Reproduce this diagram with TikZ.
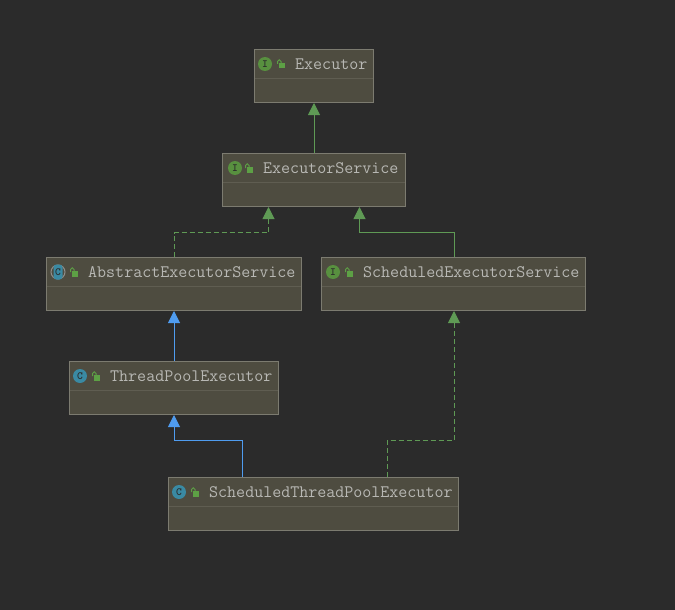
\documentclass[tikz,border=0pt]{standalone}
\usepackage{amsmath}
\usetikzlibrary{arrows.meta}
\definecolor{bgdark}{HTML}{2B2B2B}
\definecolor{boxfill}{HTML}{4E4C40}
\definecolor{boxline}{HTML}{7C7B70}
\definecolor{boxrule}{HTML}{5F5D51}
\definecolor{labelgray}{HTML}{B8B8B4}
\definecolor{inhgreen}{HTML}{5F9A55}
\definecolor{inhblue}{HTML}{4F9CF0}
\definecolor{icongreen}{HTML}{58903F}
\definecolor{iconteal}{HTML}{3A8AA3}
\definecolor{locklime}{HTML}{5DA045}
\tikzset{
  classbox/.style={draw=boxline,fill=boxfill,line width=1pt,anchor=north west,inner sep=0pt},
  classname/.style={anchor=west,inner sep=0pt,text=labelgray,font=\fontsize{17.5}{18}\ttfamily},
  ifaceicon/.style={circle,fill=icongreen,minimum size=14pt,inner sep=0pt,text=bgdark,font=\fontsize{11}{11}\ttfamily\bfseries},
  classicon/.style={circle,fill=iconteal,minimum size=14pt,inner sep=0pt,text=bgdark,font=\fontsize{11}{11}\ttfamily\bfseries},
  extgreen/.style={draw=inhgreen,line width=1pt,-{Triangle[length=12pt,width=12pt]}},
  implgreen/.style={extgreen,dash pattern=on 5pt off 3pt},
  extblue/.style={draw=inhblue,line width=1pt,-{Triangle[length=12pt,width=12pt]}},
  lockicon/.pic={
    \fill[locklime] (-1.5,0) rectangle (5,5.5);
    \draw[locklime,line width=1pt] (-2.5,1) -- (-2.5,-1.5) arc (180:360:1.75) -- (1,0);
  }
}
\begin{document}
\begin{tikzpicture}[x=1pt,y=-1pt]
\fill[bgdark] (0,0) rectangle (675,610);
\useasboundingbox (0,0) rectangle (675,610);

% class boxes
\node[classbox,minimum width=119pt,minimum height=53pt] (exec) at (254,49) {};
\draw[boxrule] (255,78) -- (373,78);
\node[ifaceicon] (execicon) at (265,64) {I};
\pic at (280,63) {lockicon};
\node[classname] (execname) at (295,64) {Executor};

\node[classbox,minimum width=183pt,minimum height=53pt] (execsvc) at (222,153) {};
\draw[boxrule] (223,182) -- (405,182);
\node[ifaceicon] (execsvcicon) at (235,168) {I};
\pic at (248,167) {lockicon};
\node[classname] (execsvcname) at (263,168) {ExecutorService};

\node[classbox,minimum width=255pt,minimum height=53pt] (abssvc) at (46,257) {};
\draw[boxrule] (47,286) -- (301,286);
\draw[labelgray!70!bgdark,line width=1pt] (58,272) circle (7);
\node[classicon,rounded corners=3pt,rectangle,minimum width=9pt,minimum height=15pt] (abssvcicon) at (58,272) {C};
\pic at (73,271) {lockicon};
\node[classname] (abssvcname) at (88,272) {AbstractExecutorService};

\node[classbox,minimum width=264pt,minimum height=53pt] (schedsvc) at (321,257) {};
\draw[boxrule] (322,286) -- (585,286);
\node[ifaceicon] (schedsvcicon) at (333,272) {I};
\pic at (348,271) {lockicon};
\node[classname] (schedsvcname) at (363,272) {ScheduledExecutorService};

\node[classbox,minimum width=209pt,minimum height=53pt] (pool) at (69,361) {};
\draw[boxrule] (70,390) -- (278,390);
\node[classicon] (poolicon) at (80,376) {C};
\pic at (95,375) {lockicon};
\node[classname] (poolname) at (110,376) {ThreadPoolExecutor};

\node[classbox,minimum width=290pt,minimum height=53pt] (schedpool) at (168,477) {};
\draw[boxrule] (169,506) -- (458,506);
\node[classicon] (schedpoolicon) at (179,492) {C};
\pic at (194,491) {lockicon};
\node[classname] (schedpoolname) at (209,492) {ScheduledThreadPoolExecutor};

% inheritance
\draw[extgreen] (execsvc.north) -- (exec.south);
\draw[implgreen] (abssvc.north) -- ++(0,-24.5) -| ([xshift=-45.5pt]execsvc.south);
\draw[extgreen] ([xshift=0.5pt]schedsvc.north) -- ++(0,-24.5) -| ([xshift=45.5pt]execsvc.south);
\draw[extblue] (pool.north) -- (abssvc.south);
\draw[extblue] ([xshift=-71.5pt]schedpool.north) -- ++(0,-36.5) -| (pool.south -| abssvc.south);
\draw[implgreen] ([xshift=73.5pt]schedpool.north) -- ++(0,-36.5) -| ([xshift=0.5pt]schedsvc.south);
\end{tikzpicture}
\end{document}
